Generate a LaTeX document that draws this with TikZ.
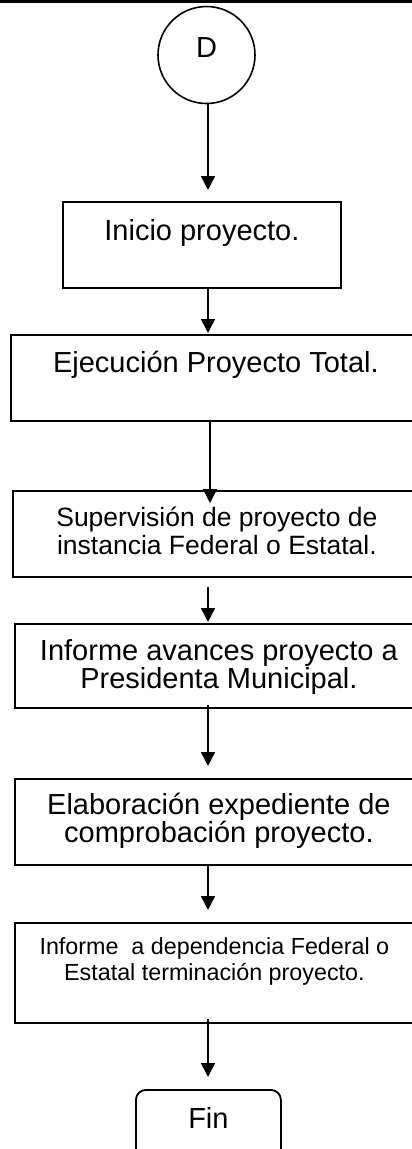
\documentclass[tikz,border=0pt]{standalone}
\usepackage{fontspec}
\setmainfont{Liberation Sans}
\usetikzlibrary{arrows.meta}
\begin{document}
\begin{tikzpicture}[x=1pt,y=-1pt,
  stepbox/.style={draw, line width=1.8pt, inner sep=0pt, align=center, anchor=north west},
  bigfont/.style={font=\fontsize{29}{27}\selectfont},
  midfont/.style={font=\fontsize{26.5}{28}\selectfont},
  smallfont/.style={font=\fontsize{23.3}{26}\selectfont},
  arr/.style={line width=1.5pt, -{Triangle[length=14pt,width=14pt]}}]
\clip (0,0) rectangle (412,1149);
\fill (0,0) rectangle (412,3);
\coordinate (ax) at (208,0);
\coordinate (ax3) at (210,0);
\node[circle, draw, line width=1.6pt, minimum size=97pt, inner sep=0pt, bigfont,
      text height=21pt, text depth=17pt] (d) at (206.5,55) {D};
\node[stepbox, bigfont, minimum width=278pt, text height=39pt, text depth=47pt] (b1) at (62,201) {Inicio proyecto.};
\node[stepbox, bigfont, minimum width=410pt, text height=38pt, text depth=48pt] (b2) at (10,334) {Ejecución Proyecto Total.};
\node[stepbox, midfont, minimum width=408pt, text height=64pt, text depth=22pt] (b3) at (12,490) {Supervisión de proyecto de\\instancia Federal o Estatal.};
\node[stepbox, font=\fontsize{29}{26.5}\selectfont, minimum width=408pt, text height=65pt, text depth=19pt] (b4) at (14,623) {Informe avances proyecto a\\Presidenta Municipal.};
\node[stepbox, bigfont, minimum width=408pt, text height=64pt, text depth=22pt] (b5) at (14,778) {Elaboración expediente de\\comprobación proyecto.};
\node[stepbox, smallfont, minimum width=399pt, text height=58pt, text depth=42pt] (b6) at (14,922) {Informe\ \ a dependencia Federal o\\Estatal terminación proyecto.};
\node[stepbox, bigfont, rounded corners=10pt, minimum width=145pt, text height=39pt, text depth=30pt] (fin) at (135,1089) {Fin};
\draw[arr, shorten >=11pt] (d.south -| ax) -- (b1.north -| ax);
\draw[arr, shorten >=1pt] (b1.south -| ax) -- (b2.north -| ax);
\draw[arr, shorten <=-2pt, shorten >=-13pt] (b2.south -| ax3) -- (b3.north -| ax3);
\draw[arr, shorten <=9pt, shorten >=1pt] (b3.south -| ax) -- (b4.north -| ax);
\draw[arr, shorten <=-4pt, shorten >=12pt] (b4.south -| ax) -- (b5.north -| ax);
\draw[arr, shorten >=12pt] (b5.south -| ax) -- (b6.north -| ax);
\draw[arr, shorten <=-5pt, shorten >=12pt] (b6.south -| ax) -- (fin.north -| ax);
\end{tikzpicture}
\end{document}
